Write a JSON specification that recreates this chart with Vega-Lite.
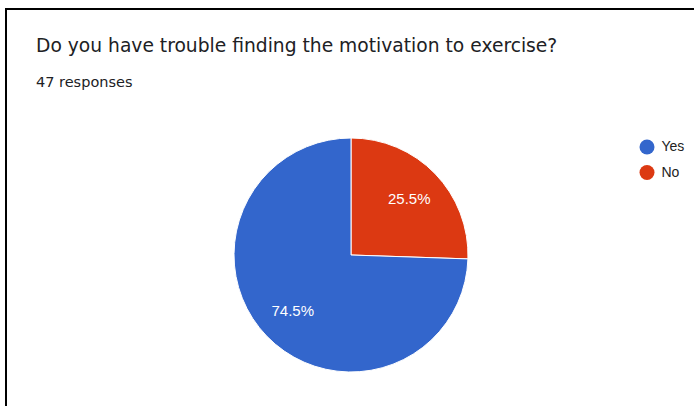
{
  "$schema": "https://vega.github.io/schema/vega-lite/v6.json",
  "width": 698,
  "height": 406,
  "autosize": {"type": "fit", "contains": "padding"},
  "padding": {"left": 6, "top": 9, "right": 2, "bottom": -95},
  "background": "white",
  "view": {"stroke": "black", "strokeWidth": 2, "strokeDash": [688, 1178, 490, 0]},
  "title": {
    "text": "Do you have trouble finding the motivation to exercise?",
    "subtitle": "47 responses",
    "anchor": "start",
    "orient": "top",
    "frame": "group",
    "offset": -80.5,
    "dx": 30,
    "font": "DejaVu Sans",
    "fontSize": 18.7,
    "fontWeight": "normal",
    "color": "#202124",
    "subtitleFont": "DejaVu Sans",
    "subtitleFontSize": 14.5,
    "subtitleColor": "#202124",
    "subtitlePadding": 20
  },
  "data": {
    "values": [
      {"answer": "No", "count": 12, "label": "25.5%", "ord": 1},
      {"answer": "Yes", "count": 35, "label": "74.5%", "ord": 2}
    ]
  },
  "encoding": {
    "theta": {"field": "count", "type": "quantitative", "stack": true},
    "order": {"field": "ord", "type": "quantitative"}
  },
  "layer": [
    {
      "mark": {"type": "arc", "outerRadius": 117, "stroke": "white", "strokeWidth": 1},
      "encoding": {
        "color": {
          "field": "answer",
          "type": "nominal",
          "scale": {"domain": ["Yes", "No"], "range": ["#3366cc", "#dc3912"]},
          "legend": {
            "title": null,
            "orient": "none",
            "legendX": 633.5,
            "legendY": 130.5,
            "symbolType": "circle",
            "symbolSize": 225,
            "symbolStrokeWidth": 0,
            "symbolOpacity": 1,
            "labelFont": "Liberation Sans",
            "labelFontSize": 14,
            "labelColor": "#222222",
            "labelOffset": 7,
            "rowPadding": 10.5
          }
        }
      }
    },
    {
      "mark": {"type": "text", "radius": 81, "color": "white", "font": "Liberation Sans", "fontSize": 15},
      "encoding": {"text": {"field": "label", "type": "nominal"}}
    }
  ]
}
